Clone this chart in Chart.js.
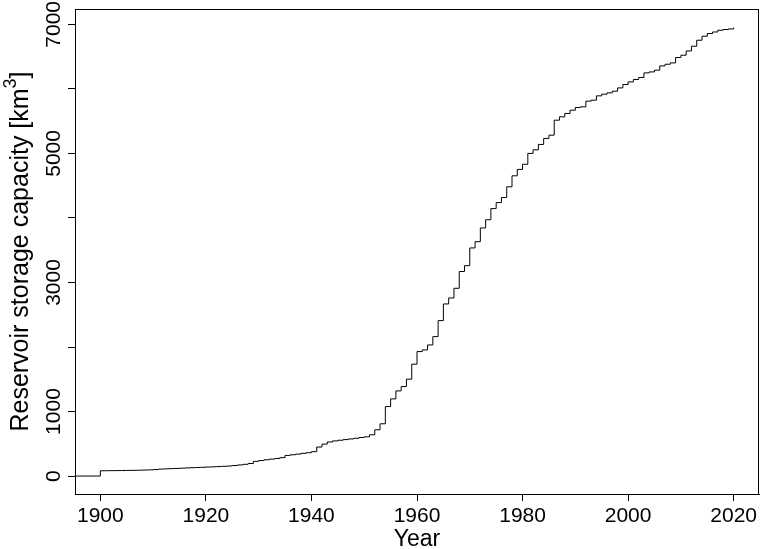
<!DOCTYPE html>
<html>
<head>
<meta charset="utf-8">
<script src="https://cdn.jsdelivr.net/npm/chart.js@4.4.1/dist/chart.umd.min.js"></script>
<style>
html,body{margin:0;padding:0;background:#fff;}
#wrap{width:761px;height:549px;position:relative;}
</style>
</head>
<body>
<div id="wrap"><canvas id="c" width="761" height="549"></canvas></div>
<script>
// ---- data ----
const years = [1895,
 1900,1901,1902,1903,1904,1905,1906,1907,1908,1909,
 1910,1911,1912,1913,1914,1915,1916,1917,1918,1919,
 1920,1921,1922,1923,1924,1925,1926,1927,1928,1929,
 1930,1931,1932,1933,1934,1935,1936,1937,1938,1939,
 1940,1941,1942,1943,1944,1945,1946,1947,1948,1949,
 1950,1951,1952,1953,1954,1955,1956,1957,1958,1959,
 1960,1961,1962,1963,1964,1965,1966,1967,1968,1969,
 1970,1971,1972,1973,1974,1975,1976,1977,1978,1979,
 1980,1981,1982,1983,1984,1985,1986,1987,1988,1989,
 1990,1991,1992,1993,1994,1995,1996,1997,1998,1999,
 2000,2001,2002,2003,2004,2005,2006,2007,2008,2009,
 2010,2011,2012,2013,2014,2015,2016,2017,2018,2019,
 2020];
const capacity = [0,
 82,83,84,85,86,88,89,91,93,96,
 100,108,111,115,118,122,126,130,133,136,
 140,143,147,151,156,163,172,182,195,228,
 240,252,262,272,285,320,330,340,352,362,
 378,450,495,528,545,555,565,575,585,598,
 608,640,717,810,1077,1196,1320,1387,1502,1734,
 1929,1955,2032,2161,2409,2667,2760,2910,3170,3260,
 3535,3632,3845,3972,4145,4238,4316,4483,4653,4752,
 4832,5000,5056,5139,5232,5283,5515,5567,5619,5670,
 5712,5722,5810,5825,5892,5918,5938,5964,6015,6068,
 6108,6146,6176,6248,6263,6290,6356,6382,6403,6486,
 6522,6588,6661,6754,6816,6858,6882,6909,6920,6929,
 6950];
const xTicks = [1900,1920,1940,1960,1980,2000,2020];
const yTicks = [0,1000,2000,3000,4000,5000,6000,7000];
const yTickLabels = ['0','1000','','3000','','5000','','7000'];
const xTitle = 'Year';
const yTitle = 'Reservoir storage capacity [km';
const yTitleSup = '3';
const yTitleEnd = ']';

const FONT = '"Liberation Sans", Arial, Helvetica, sans-serif';

const points = years.map((y,i)=>({x:y, y:capacity[i]}));

const labelPlugin = {
  id:'rlabels',
  afterDraw(chart){
    const ctx = chart.ctx;
    const xs = chart.scales.x, ys = chart.scales.y;
    const a = chart.chartArea;
    ctx.save();
    // box
    ctx.strokeStyle = '#000';
    ctx.lineWidth = 1;
    ctx.strokeRect(Math.round(a.left)+0.5, Math.round(a.top)+0.5,
                   Math.round(a.right)-Math.round(a.left)-1, Math.round(a.bottom)-Math.round(a.top));
    ctx.fillStyle = '#000';
    ctx.font = '21px ' + FONT;
    // x tick labels
    ctx.textAlign = 'center';
    ctx.textBaseline = 'alphabetic';
    xTicks.forEach(v=>{
      ctx.fillText(String(v), xs.getPixelForValue(v), a.bottom + 28);
    });
    // y tick labels (rotated)
    yTicks.forEach((v,i)=>{
      const t = yTickLabels[i];
      if(!t) return;
      ctx.save();
      ctx.translate(a.left - 15, ys.getPixelForValue(v));
      ctx.rotate(-Math.PI/2);
      ctx.textAlign = 'center';
      ctx.fillText(t, 0, 0);
      ctx.restore();
    });
    // x title
    ctx.font = '23px ' + FONT;
    ctx.textAlign = 'center';
    ctx.fillText(xTitle, (a.left + a.right)/2, a.bottom + 52);
    // y title
    ctx.save();
    ctx.translate(a.left - 47, (a.top + a.bottom)/2);
    ctx.rotate(-Math.PI/2);
    ctx.font = '25px ' + FONT;
    const mainW = ctx.measureText(yTitle).width;
    ctx.font = '18px ' + FONT;
    const supW = ctx.measureText(yTitleSup).width;
    ctx.font = '25px ' + FONT;
    const endW = ctx.measureText(yTitleEnd).width;
    const total = mainW + supW + endW;
    let x0 = -total/2;
    ctx.textAlign = 'left';
    ctx.fillText(yTitle, x0, 0);
    ctx.font = '18px ' + FONT;
    ctx.fillText(yTitleSup, x0 + mainW, -12);
    ctx.font = '25px ' + FONT;
    ctx.fillText(yTitleEnd, x0 + mainW + supW, 0);
    ctx.restore();
    ctx.restore();
  }
};

new Chart(document.getElementById('c'), {
  type:'line',
  data:{
    datasets:[{
      data: points,
      stepped: 'before',
      borderColor:'#000',
      borderWidth:1,
      pointRadius:0,
      fill:false,
      tension:0
    }]
  },
  options:{
    responsive:false,
    animation:false,
    devicePixelRatio:1,
    layout:{padding:{left:0, top:9, right:2, bottom:0}},
    plugins:{legend:{display:false}, tooltip:{enabled:false}},
    scales:{
      x:{
        type:'linear',
        min:1895.2, max:2024.8,
        afterBuildTicks: s => { s.ticks = xTicks.map(v=>({value:v})); },
        afterFit: s => { s.height = 55; },
        ticks:{display:false},
        grid:{display:true, drawOnChartArea:false, drawTicks:true, tickLength:7, color:'#000', lineWidth:1},
        border:{display:true, color:'#000', width:1}
      },
      y:{
        type:'linear',
        min:-278, max:7238,
        afterBuildTicks: s => { s.ticks = yTicks.map(v=>({value:v})); },
        afterFit: s => { s.width = 75; },
        ticks:{display:false},
        grid:{display:true, drawOnChartArea:false, drawTicks:true, tickLength:7, color:'#000', lineWidth:1},
        border:{display:true, color:'#000', width:1}
      }
    }
  },
  plugins:[labelPlugin]
});
</script>
</body>
</html>
